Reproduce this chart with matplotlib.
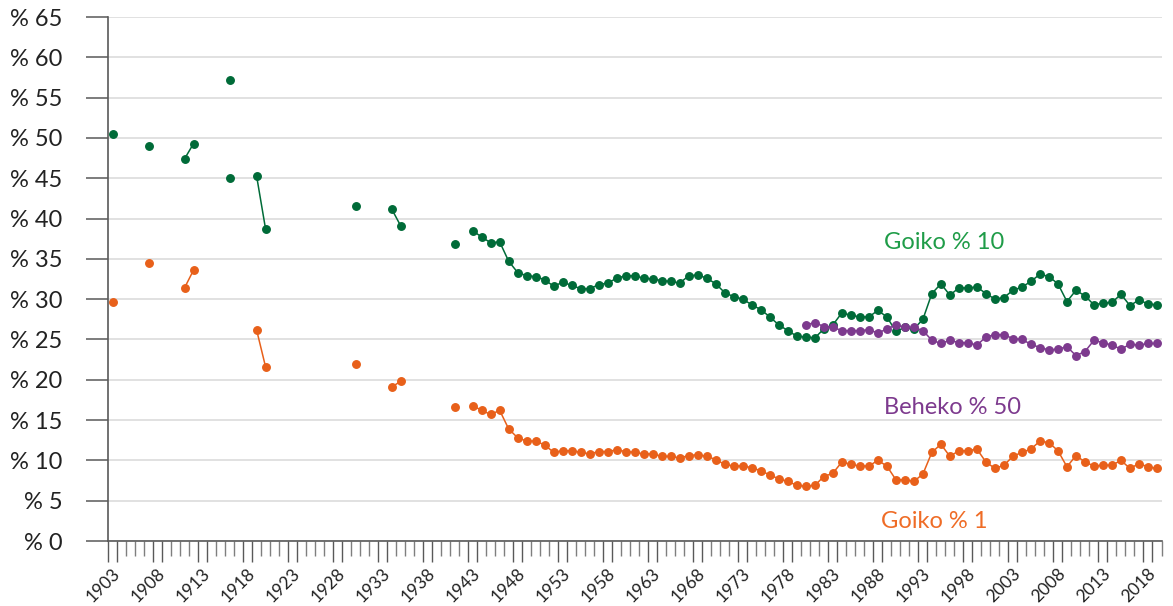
import numpy as np
import pandas as pd
import matplotlib
matplotlib.use("Agg")
import matplotlib.pyplot as plt
from matplotlib.transforms import ScaledTranslation

plt.rcParams['font.family'] = ['Lato', 'DejaVu Sans']

# --- data ---
years_all = list(range(1903, 2020))

# sparse early years
years_early = [1903, 1907, 1911, 1912, 1916, 1919, 1920, 1930, 1934, 1935, 1941]
goiko10_early = [50.5, 49.0, 47.4, 49.3, 45.0, 45.3, 38.7, 41.5, 41.2, 39.1, 36.8]
goiko1_early = [29.6, 34.5, 31.4, 33.6, None, 26.2, 21.6, 22.0, 19.1, 19.8, 16.6]

# extra lone point in 1916
extra_year = [1916]
goiko10_extra = [57.2]

# continuous years 1943-2019
years_cont = list(range(1943, 2020))
goiko10_cont = [
    38.5, 37.7, 37.0, 37.1, 34.7, 33.3, 32.9, 32.8, 32.4, 31.6,   # 1943-1952
    32.1, 31.7, 31.3, 31.3, 31.8, 32.0, 32.6, 32.9, 32.9, 32.6,   # 1953-1962
    32.5, 32.3, 32.2, 32.0, 32.9, 33.0, 32.6, 31.9, 30.8, 30.3,   # 1963-1972
    30.0, 29.3, 28.7, 27.8, 26.8, 26.1, 25.4, 25.3, 25.2, 26.3,   # 1973-1982
    26.8, 28.3, 28.0, 27.8, 27.8, 28.6, 27.8, 26.0, 26.5, 26.3,   # 1983-1992
    27.5, 30.7, 31.9, 30.5, 31.4, 31.4, 31.5, 30.7, 30.0, 30.2,   # 1993-2002
    31.1, 31.5, 32.2, 33.1, 32.8, 31.9, 29.7, 31.1, 30.4, 29.3,   # 2003-2012
    29.5, 29.6, 30.6, 29.2, 29.9, 29.4, 29.3,                     # 2013-2019
]
goiko1_cont = [
    16.8, 16.2, 15.7, 16.2, 13.9, 12.8, 12.4, 12.4, 11.9, 11.0,
    11.2, 11.2, 11.0, 10.8, 11.1, 11.1, 11.3, 11.1, 11.0, 10.8,
    10.8, 10.5, 10.5, 10.3, 10.6, 10.7, 10.5, 10.1, 9.5, 9.3,
    9.3, 9.1, 8.7, 8.2, 7.7, 7.4, 6.9, 6.8, 6.9, 8.0,
    8.4, 9.8, 9.5, 9.3, 9.3, 10.0, 9.3, 7.6, 7.6, 7.4,
    8.3, 11.0, 12.0, 10.5, 11.2, 11.2, 11.4, 9.8, 9.0, 9.4,
    10.5, 11.0, 11.4, 12.4, 12.2, 11.2, 9.2, 10.6, 9.8, 9.3,
    9.4, 9.4, 10.0, 9.0, 9.6, 9.2, 9.0,
]
years_beheko = list(range(1980, 2020))
beheko50 = [
    26.8, 27.1, 26.6, 26.5, 26.1, 26.1, 26.1, 26.2, 25.8, 26.3,
    26.8, 26.5, 26.5, 26.1, 24.9, 24.5, 24.9, 24.6, 24.6, 24.3,
    25.3, 25.6, 25.6, 25.1, 25.0, 24.4, 24.0, 23.7, 23.8, 24.1,
    23.0, 23.5, 24.9, 24.6, 24.3, 23.8, 24.4, 24.3, 24.5, 24.5,
]

label_years = list(range(1903, 2019, 5))

# build series over all years (NaN = gap)
g10 = pd.concat([pd.Series(goiko10_early, index=years_early, dtype=float),
                 pd.Series(goiko10_cont, index=years_cont)]).reindex(years_all)
g1 = pd.concat([pd.Series(goiko1_early, index=years_early, dtype=float),
                pd.Series(goiko1_cont, index=years_cont)]).reindex(years_all)
b50 = pd.Series(beheko50, index=years_beheko).reindex(years_all)

GREEN = '#006b38'
ORANGE = '#e8601a'
PURPLE = '#7d3a8e'
AXCOL = '#595959'

fig = plt.figure(figsize=(11.73, 6.06), dpi=100)
ax = fig.add_axes([108 / 1173, 65 / 606, (1161.5 - 108) / 1173, 524 / 606])

style = dict(marker='o', markersize=5.4, linewidth=1.1)
ax.plot(g10.index, g10.values, color=GREEN, **style)
ax.plot(extra_year, goiko10_extra, color=GREEN, linestyle='none', marker='o', markersize=5.4)
ax.plot(b50.index, b50.values, color=PURPLE, **style)
ax.plot(g1.index, g1.values, color=ORANGE, **style)

ax.set_xlim(1902.5, 2019.5)
ax.set_ylim(0, 65)

# y axis
ax.set_yticks(range(0, 66, 5))
ax.set_yticklabels(['% ' + str(v) for v in range(0, 66, 5)])
ax.yaxis.grid(True, color='#dcdcdc', linewidth=1.2)
ax.set_axisbelow(True)
ax.tick_params(axis='y', length=16, width=1.1, color=AXCOL, pad=17,
               labelsize=17, labelcolor='#222222')

# x axis: ticks at category boundaries
major_pos = sorted(set([y - 0.5 for y in label_years] + [y + 0.5 for y in label_years]))
ax.set_xticks(major_pos)
ax.set_xticklabels([])
ax.set_xticks(np.arange(1902.5, 2020, 1.0), minor=True)
ax.tick_params(axis='x', which='major', length=15, width=1.0, color=AXCOL)
ax.tick_params(axis='x', which='minor', length=11, width=1.0, color='#7f7f7f')

off = ScaledTranslation(5 / 100, -30 / 100, fig.dpi_scale_trans)
for y in label_years:
    ax.text(y, 0, str(y), transform=ax.get_xaxis_transform() + off,
            rotation=45, rotation_mode='anchor', ha='right', va='center',
            fontsize=12.5, color='#222222')

for s in ['top', 'right']:
    ax.spines[s].set_visible(False)
for s in ['left', 'bottom']:
    ax.spines[s].set_color(AXCOL)
    ax.spines[s].set_linewidth(1.2)

# series labels
ax.text(1995.4, 36.2, 'Goiko % 10', color='#1f9c48', fontsize=17, ha='center', va='baseline')
ax.text(1996.3, 15.8, 'Beheko % 50', color=PURPLE, fontsize=17, ha='center', va='baseline')
ax.text(1994.3, 1.6, 'Goiko % 1', color='#ef6c26', fontsize=17, ha='center', va='baseline')

fig.savefig('out.png', dpi=100)
